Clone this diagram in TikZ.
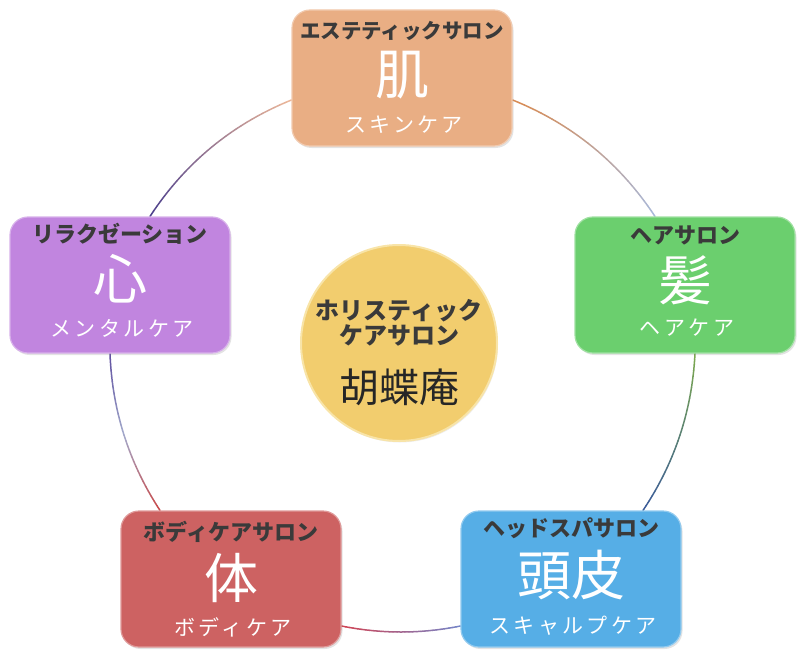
\documentclass[tikz,border=0pt]{standalone}
\usepackage{fontspec}
\newfontfamily\jp{Noto Sans CJK JP}
\usetikzlibrary{calc,shadows,backgrounds}
\definecolor{cT}{HTML}{E9AE84}
\definecolor{cL}{HTML}{C185DF}
\definecolor{cR}{HTML}{6BCF6E}
\definecolor{cBL}{HTML}{CD6262}
\definecolor{cBR}{HTML}{56AEE6}
\definecolor{cC}{HTML}{F2CD6E}
\definecolor{cCrim}{HTML}{F8E4A8}
\definecolor{labcol}{HTML}{3A3A3A}
\definecolor{inkcol}{HTML}{262626}
\definecolor{g1a}{HTML}{EDB89A}
\definecolor{g1b}{HTML}{4B3F8C}
\definecolor{g2a}{HTML}{D98A50}
\definecolor{g2b}{HTML}{A9B9DA}
\definecolor{g3a}{HTML}{5E4FA0}
\definecolor{g3m}{HTML}{A3AACB}
\definecolor{g3b}{HTML}{C84848}
\definecolor{g4a}{HTML}{7DAA4E}
\definecolor{g4b}{HTML}{3A5A9A}
\definecolor{g5a}{HTML}{D24352}
\definecolor{g5b}{HTML}{7585C8}
% quadratic curve #1 -> #3 with control #2, colour from #4 to #5, in #6 steps from step #7
\newcommand\gradcurve[5]{%
  \foreach \k in {0,...,29}{%
    \pgfmathsetmacro\ta{\k/30}%
    \pgfmathsetmacro\tb{(\k+1)/30}%
    \pgfmathtruncatemacro\pc{100-100*(\k+0.5)/30}%
    \draw[conncurve, color=#4!\pc!#5]
      ($($(#1)!\ta!(#2)$)!\ta!($(#2)!\ta!(#3)$)$) --
      ($($(#1)!\tb!(#2)$)!\tb!($(#2)!\tb!(#3)$)$);
  }}
% three-colour variant: #4 -> #5 -> #6
\newcommand\gradcurvethree[6]{%
  \foreach \k in {0,...,29}{%
    \pgfmathsetmacro\ta{\k/30}%
    \pgfmathsetmacro\tb{(\k+1)/30}%
    \pgfmathtruncatemacro\pc{100-100*(\k+0.5)/15}%
    \pgfmathtruncatemacro\pd{100-100*(\k-14.5)/15}%
    \ifnum\k<15
      \def\segcol{#4!\pc!#5}%
    \else
      \def\segcol{#5!\pd!#6}%
    \fi
    \draw[conncurve, color=\segcol]
      ($($(#1)!\ta!(#2)$)!\ta!($(#2)!\ta!(#3)$)$) --
      ($($(#1)!\tb!(#2)$)!\tb!($(#2)!\tb!(#3)$)$);
  }}
\tikzset{
  salon/.style={rounded corners=18pt, minimum width=220pt, minimum height=136pt,
    inner sep=0pt, draw=#1!65!white, line width=1.2pt, fill=#1,
    drop shadow={opacity=0.22, shadow xshift=1.5pt, shadow yshift=-2pt}},
  labtxt/.style={font=\jp\bfseries\fontsize{22}{26}\selectfont, text=labcol, inner sep=0pt},
  kanji/.style={font=\jp\fontsize{54}{60}\selectfont, text=white, inner sep=0pt},
  subtxt/.style={font=\jp\fontsize{21}{25}\selectfont\addfontfeature{LetterSpace=16}, text=white, inner sep=0pt},
  centertxt/.style={font=\jp\bfseries\fontsize{24}{28}\selectfont, text=labcol, inner sep=0pt},
  conncurve/.style={line width=1.5pt, line cap=round},
}
\begin{document}
\begin{tikzpicture}[x=1pt,y=-1pt]
\useasboundingbox (0,0) rectangle (800,658);
% boxes
\node[salon=cT]  (T)  at (402,78)  {};
\node[salon=cL]  (L)  at (120,285) {};
\node[salon=cR]  (R)  at (685,285) {};
\node[salon=cBL] (BL) at (231,579) {};
\node[salon=cBR] (BR) at (571,579) {};
\node[circle, minimum size=196pt, inner sep=0pt, fill=cC, draw=cCrim, line width=2pt,
      drop shadow={opacity=0.15, shadow xshift=1pt, shadow yshift=-1.5pt}] (C) at (399,343) {};
% texts
\node[labtxt, font=\jp\bfseries\fontsize{20.5}{24}\selectfont] (Tl) at ($(T)+(0,-47)$) {エステティックサロン};
\node[kanji]  (Tk) at ($(T)+(0,-3)$)  {肌};
\node[subtxt] (Ts) at ($(T)+(2,47)$)  {スキンケア};
\node[labtxt] (Ll) at ($(L)+(0,-51)$) {リラクゼーション};
\node[kanji]  (Lk) at ($(L)+(0,-6)$)  {心};
\node[subtxt] (Ls) at ($(L)+(2,43)$)  {メンタルケア};
\node[labtxt] (Rl) at ($(R)+(0,-50)$) {ヘアサロン};
\node[kanji]  (Rk) at ($(R)+(0,-5)$)  {髪};
\node[subtxt] (Rs) at ($(R)+(2,43)$)  {ヘアケア};
\node[labtxt] (BLl) at ($(BL)+(0,-47)$) {ボディケアサロン};
\node[kanji]  (BLk) at ($(BL)+(0,-1)$)  {体};
\node[subtxt] (BLs) at ($(BL)+(2,48)$)  {ボディケア};
\node[labtxt] (BRl) at ($(BR)+(0,-51)$) {ヘッドスパサロン};
\node[kanji]  (BRk) at ($(BR)+(0,-4)$)  {頭皮};
\node[subtxt] (BRs) at ($(BR)+(2,47)$)  {スキャルプケア};
\node[centertxt] (C1) at ($(C)+(0,-32)$) {ホリスティック};
\node[centertxt] (C2) at ($(C)+(0,-8)$)  {ケアサロン};
\node[font=\jp\fontsize{40}{44}\selectfont, text=inkcol, inner sep=0pt] (C3) at ($(C)+(0,44)$) {胡蝶庵};
% connectors
\coordinate (a1) at ($(T.west)+(0,22)$);
\coordinate (b1) at ($(L.north)+(30,0)$);
\coordinate (k1) at ($(a1)!0.5!(b1)!28.6pt!-90:(b1)$);
\coordinate (a2) at ($(T.east)+(0,22)$);
\coordinate (b2) at ($(R.north)+(-30,0)$);
\coordinate (k2) at ($(a2)!0.5!(b2)!28.6pt!90:(b2)$);
\coordinate (a3) at ($(L.south)+(-10,0)$);
\coordinate (b3) at ($(BL.north)+(-71,0)$);
\coordinate (k3) at ($(a3)!0.5!(b3)!22.8pt!-90:(b3)$);
\coordinate (a4) at ($(R.south)+(10,0)$);
\coordinate (b4) at ($(BR.north)+(72,0)$);
\coordinate (k4) at ($(a4)!0.5!(b4)!22.8pt!90:(b4)$);
\coordinate (a5) at ($(BL.east)+(0,47)$);
\coordinate (b5) at ($(BR.west)+(0,47)$);
\coordinate (k5) at ($(a5)!0.5!(b5)!12pt!-90:(b5)$);
\begin{scope}[on background layer]
\gradcurve{a1}{k1}{b1}{g1a}{g1b}
\gradcurve{a2}{k2}{b2}{g2a}{g2b}
\gradcurvethree{a3}{k3}{b3}{g3a}{g3m}{g3b}
\gradcurve{a4}{k4}{b4}{g4a}{g4b}
\gradcurve{a5}{k5}{b5}{g5a}{g5b}
\end{scope}
\end{tikzpicture}
\end{document}
